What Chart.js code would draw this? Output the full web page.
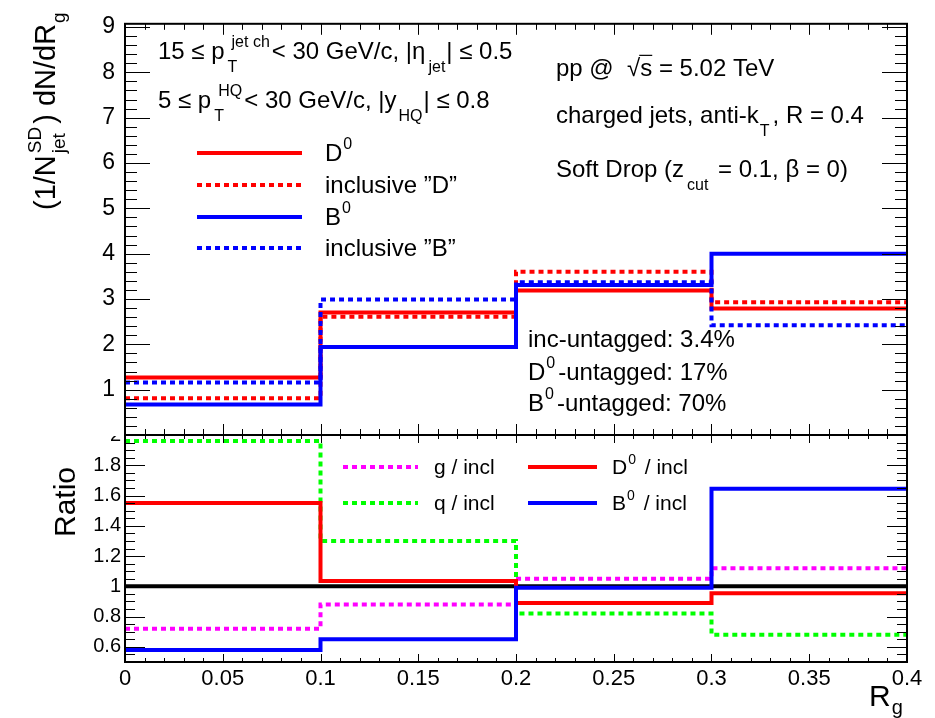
<!DOCTYPE html>
<html>
<head>
<meta charset="utf-8">
<script src="https://cdn.jsdelivr.net/npm/chart.js@4.4.1/dist/chart.umd.min.js"></script>
<style>
html, body { margin: 0; padding: 0; background: #fff; }
#wrap { position: relative; width: 935px; height: 718px; }
#wrap canvas { position: absolute; left: 0; top: 0; }
</style>
</head>
<body>
<div id="wrap">
  <canvas id="ratioChart" width="935" height="718"></canvas>
  <canvas id="mainChart" width="935" height="718"></canvas>
</div>
<script>
// bin edges in R_g
const binEdges = [0, 0.1, 0.2, 0.3, 0.4];

// upper panel, (1/N) dN/dRg per bin
const d0Values    = [1.27, 2.70, 3.19, 2.79];
const inclDValues = [0.81, 2.61, 3.60, 2.93];
const b0Values    = [0.67, 1.94, 3.31, 4.00];
const inclBValues = [1.16, 2.99, 3.37, 2.42];

// lower panel, ratio to inclusive
const gRatio     = [0.72, 0.88, 1.05, 1.12];
const qRatio     = [1.96, 1.30, 0.82, 0.68];
const d0Ratio    = [1.55, 1.035, 0.89, 0.955];
const b0Ratio    = [0.58, 0.65, 0.99, 1.645];
const unityRatio = [1, 1, 1, 1];

// tick labels
const topYTicks    = [1, 2, 3, 4, 5, 6, 7, 8, 9];
const ratioYTicks  = [0.6, 0.8, 1, 1.2, 1.4, 1.6, 1.8, 2];
const ratioYLabels = ['0.6', '0.8', '1', '1.2', '1.4', '1.6', '1.8', '2'];
const xTicks       = [0, 0.05, 0.1, 0.15, 0.2, 0.25, 0.3, 0.35, 0.4];
const xTickLabels  = ['0', '0.05', '0.1', '0.15', '0.2', '0.25', '0.3', '0.35', '0.4'];

const FONT = '"Liberation Sans", Arial, Helvetica, sans-serif';
const RED = '#ff0000', BLUE = '#0000ff', GREEN = '#00ff00', MAGENTA = '#ff00ff';
const DOTS = [5, 4];

// histogram -> step points (last value repeated to close the last bin)
function histPoints(vals) {
    const pts = vals.map((v, i) => ({ x: binEdges[i], y: v }));
    pts.push({ x: binEdges[vals.length], y: vals[vals.length - 1] });
    return pts;
}

function histSet(label, vals, color, dotted) {
    return {
        label: label,
        data: histPoints(vals),
        borderColor: color,
        borderWidth: 4,
        borderDash: dotted ? DOTS : [],
        borderCapStyle: 'butt',
        stepped: 'before',   // horizontal first, then the jump at the bin edge
        pointRadius: 0,
        fill: false,
        tension: 0
    };
}

// text with ROOT-like sub/superscripts
function drawRich(ctx, x, y, parts, size, subDy) {
    const small = Math.round(size * 0.65);
    const down = subDy !== undefined ? subDy : size * 0.55;
    let cx = x;
    for (const p of parts) {
        if (p.t !== undefined) {
            ctx.font = size + 'px ' + FONT;
            ctx.fillText(p.t, cx, y);
            cx += ctx.measureText(p.t).width;
        } else if (p.sqrt !== undefined) {
            ctx.font = size + 'px ' + FONT;
            ctx.fillText('\u221A', cx, y);
            const w0 = ctx.measureText('\u221A').width;
            ctx.fillText(p.sqrt, cx + w0, y);
            const w1 = ctx.measureText(p.sqrt).width;
            ctx.save();
            ctx.lineWidth = 1.2;
            ctx.beginPath();
            ctx.moveTo(cx + w0 - 1, y - size * 0.86);
            ctx.lineTo(cx + w0 + w1, y - size * 0.86);
            ctx.stroke();
            ctx.restore();
            cx += w0 + w1;
        } else {
            const pre = p.pre !== undefined ? p.pre : 2;
            ctx.font = small + 'px ' + FONT;
            let w = 0;
            if (p.sup) {
                ctx.fillText(p.sup, cx + pre + (p.supDx || 0), y - size * 0.5);
                w = Math.max(w, ctx.measureText(p.sup).width + (p.supDx || 0));
            }
            if (p.sub) {
                ctx.fillText(p.sub, cx + pre, y + down);
                w = Math.max(w, ctx.measureText(p.sub).width);
            }
            cx += pre + w + (p.post !== undefined ? p.post : 3);
        }
    }
    return cx;
}

// values from min to max in steps
function tickRange(min, max, step) {
    const out = [];
    const n0 = Math.ceil(min / step - 1e-6);
    const n1 = Math.floor(max / step + 1e-6);
    for (let n = n0; n <= n1; n++) out.push(+(n * step).toFixed(6));
    return out;
}

// ROOT style frame with inward ticks on all four sides
function framePlugin(cfg) {
    return {
        id: 'rootFrame',
        afterDatasetsDraw(chart) {
            const { ctx, chartArea: a, scales } = chart;
            const xs = scales.x, ys = scales.y;
            ctx.save();
            ctx.strokeStyle = '#000';
            ctx.lineWidth = 1;
            ctx.beginPath();
            tickRange(ys.min, ys.max, cfg.yMinor).forEach(v => {
                const major = Math.abs(v / cfg.yMajor - Math.round(v / cfg.yMajor)) < 1e-6;
                const len = major ? cfg.yMajLen : cfg.yMinLen;
                const py = Math.round(ys.getPixelForValue(v)) + 0.5;
                ctx.moveTo(a.left, py); ctx.lineTo(a.left + len, py);
                ctx.moveTo(a.right, py); ctx.lineTo(a.right - len, py);
            });
            tickRange(xs.min, xs.max, cfg.xMinor).forEach(v => {
                const major = Math.abs(v / cfg.xMajor - Math.round(v / cfg.xMajor)) < 1e-6;
                const px = Math.round(xs.getPixelForValue(v)) + 0.5;
                ctx.moveTo(px, a.bottom); ctx.lineTo(px, a.bottom - (major ? cfg.xMajLen : cfg.xMinLen));
                ctx.moveTo(px, a.top); ctx.lineTo(px, a.top + (major ? cfg.xMajLen : cfg.xMinLen));
            });
            ctx.stroke();
            ctx.lineWidth = 2;
            ctx.strokeRect(a.left, a.top, a.right - a.left, a.bottom - a.top);
            ctx.restore();
        }
    };
}

function legendLine(ctx, x0, x1, y, color, dotted) {
    ctx.save();
    ctx.strokeStyle = color;
    ctx.lineWidth = 4;
    ctx.setLineDash(dotted ? DOTS : []);
    ctx.beginPath();
    ctx.moveTo(x0, y); ctx.lineTo(x1, y);
    ctx.stroke();
    ctx.restore();
}

// ---------- upper panel ----------
const topText = {
    id: 'topText',
    beforeDraw(chart) {
        // covers the top half of the ratio pad's "2" label, as the upper pad does
        const ctx = chart.ctx;
        ctx.save();
        ctx.fillStyle = '#fff';
        ctx.fillRect(0, 0, chart.width, 436);
        ctx.restore();
    },
    afterDraw(chart) {
        const ctx = chart.ctx;
        const fs = 24;
        ctx.save();
        ctx.fillStyle = '#000';
        ctx.strokeStyle = '#000';
        ctx.textBaseline = 'alphabetic';

        drawRich(ctx, 158, 59, [{ t: '15 \u2264 p' }, { sup: 'jet ch', sub: 'T', pre: 3, supDx: 4, post: 2 }, { t: '< 30 GeV/c, |\u03B7' }, { sub: 'jet', pre: 3, post: 1 }, { t: '| \u2264 0.5' }], fs);
        drawRich(ctx, 158, 108, [{ t: '5 \u2264 p' }, { sup: 'HQ', sub: 'T', pre: 3, supDx: 4, post: 2 }, { t: '< 30 GeV/c, |y' }, { sub: 'HQ', pre: 2, post: 1 }, { t: '| \u2264 0.8' }], fs);

        drawRich(ctx, 556, 76, [{ t: 'pp @  ' }, { sqrt: 's' }, { t: ' = 5.02 TeV' }], fs);
        drawRich(ctx, 556, 123, [{ t: 'charged jets, anti-k' }, { sub: 'T', pre: 1 }, { t: ', R = 0.4' }], fs);
        drawRich(ctx, 556, 177, [{ t: 'Soft Drop (z' }, { sub: 'cut', pre: 3 }, { t: ' = 0.1, \u03B2 = 0)' }], fs);

        drawRich(ctx, 528, 347, [{ t: 'inc-untagged: 3.4%' }], fs);
        drawRich(ctx, 528, 380, [{ t: 'D' }, { sup: '0', pre: 1 }, { t: '-untagged: 17%' }], fs);
        drawRich(ctx, 528, 411, [{ t: 'B' }, { sup: '0', pre: 1 }, { t: '-untagged: 70%' }], fs);

        // legend
        const items = [
            [[{ t: 'D' }, { sup: '0', pre: 1 }], RED, false, 153],
            [[{ t: 'inclusive \u201DD\u201D' }], RED, true, 185],
            [[{ t: 'B' }, { sup: '0', pre: 1 }], BLUE, false, 217],
            [[{ t: 'inclusive \u201DB\u201D' }], BLUE, true, 248]
        ];
        items.forEach(([parts, color, dotted, y]) => {
            legendLine(ctx, 197, 302, y, color, dotted);
            drawRich(ctx, 325, y + 8, parts, fs);
        });

        // y title
        ctx.translate(55, 210);
        ctx.rotate(-Math.PI / 2);
        drawRich(ctx, 0, 0, [{ t: '(1/N' }, { sup: 'SD', sub: 'jet', pre: 2 }, { t: ') dN/dR' }, { sub: 'g', pre: 1 }], 29, 10);
        ctx.restore();
    }
};

new Chart(document.getElementById('mainChart'), {
    type: 'line',
    data: {
        datasets: [
            histSet('B0', b0Values, BLUE, false),
            histSet('inclusive "B"', inclBValues, BLUE, true),
            histSet('D0', d0Values, RED, false),
            histSet('inclusive "D"', inclDValues, RED, true)
        ]
    },
    options: {
        responsive: false,
        animation: false,
        layout: { padding: { top: 18, right: 28, bottom: 283, left: 0 } },
        plugins: { legend: { display: false }, tooltip: { enabled: false } },
        scales: {
            x: { type: 'linear', min: 0, max: 0.4, display: false },
            y: {
                type: 'linear', min: 0, max: 9.07,
                afterFit: s => { s.width = 125; },
                afterBuildTicks: s => { s.ticks = topYTicks.map(v => ({ value: v })); },
                grid: { display: false, drawTicks: false },
                border: { display: false },
                ticks: {
                    color: '#000', padding: 10,
                    font: { family: FONT, size: 23 },
                    callback: v => String(v)
                }
            }
        }
    },
    plugins: [framePlugin({ yMajor: 1, yMinor: 0.2, yMajLen: 25, yMinLen: 12, xMajor: 0.05, xMinor: 0.01, xMajLen: 11, xMinLen: 6 }), topText]
});

// ---------- ratio panel ----------
const ratioText = {
    id: 'ratioText',
    afterDraw(chart) {
        const ctx = chart.ctx;
        ctx.save();
        ctx.fillStyle = '#000';
        const items = [
            [[{ t: 'g / incl' }], MAGENTA, true, 343, 418, 434, 467],
            [[{ t: 'q / incl' }], GREEN, true, 343, 418, 434, 503],
            [[{ t: 'D' }, { sup: '0', pre: 1 }, { t: ' / incl' }], RED, false, 528, 597, 612, 467],
            [[{ t: 'B' }, { sup: '0', pre: 1 }, { t: ' / incl' }], BLUE, false, 528, 597, 612, 503]
        ];
        items.forEach(([parts, color, dotted, x0, x1, tx, y]) => {
            legendLine(ctx, x0, x1, y, color, dotted);
            drawRich(ctx, tx, y + 7, parts, 21);
        });

        // axis titles
        drawRich(ctx, 869, 706, [{ t: 'R' }, { sub: 'g', pre: 1 }], 30, 8);
        ctx.translate(75, 537);
        ctx.rotate(-Math.PI / 2);
        drawRich(ctx, 0, 0, [{ t: 'Ratio' }], 30);
        ctx.restore();
    }
};

new Chart(document.getElementById('ratioChart'), {
    type: 'line',
    data: {
        datasets: [
            histSet('B0 / incl', b0Ratio, BLUE, false),
            histSet('D0 / incl', d0Ratio, RED, false),
            histSet('q / incl', qRatio, GREEN, true),
            histSet('g / incl', gRatio, MAGENTA, true),
            histSet('unity', unityRatio, '#000000', false)
        ]
    },
    options: {
        responsive: false,
        animation: false,
        layout: { padding: { top: 435, right: 28, bottom: 0, left: 0 } },
        plugins: { legend: { display: false }, tooltip: { enabled: false } },
        scales: {
            x: {
                type: 'linear', min: 0, max: 0.4,
                afterFit: s => { s.height = 56; },
                afterBuildTicks: s => { s.ticks = xTicks.map(v => ({ value: v })); },
                grid: { display: false, drawTicks: false },
                border: { display: false },
                ticks: {
                    color: '#000', padding: 4, autoSkip: false, maxRotation: 0,
                    font: { family: FONT, size: 22 },
                    callback: (v, i) => xTickLabels[i]
                }
            },
            y: {
                type: 'linear', min: 0.5, max: 2.0,
                afterFit: s => { s.width = 125; },
                afterBuildTicks: s => { s.ticks = ratioYTicks.map(v => ({ value: v })); },
                grid: { display: false, drawTicks: false },
                border: { display: false },
                ticks: {
                    color: '#000', padding: 4,
                    font: { family: FONT, size: 20 },
                    callback: (v, i) => ratioYLabels[i]
                }
            }
        }
    },
    plugins: [framePlugin({ yMajor: 0.2, yMinor: 0.05, yMajLen: 20, yMinLen: 10, xMajor: 0.05, xMinor: 0.01, xMajLen: 8, xMinLen: 4 }), ratioText]
});
</script>
</body>
</html>
